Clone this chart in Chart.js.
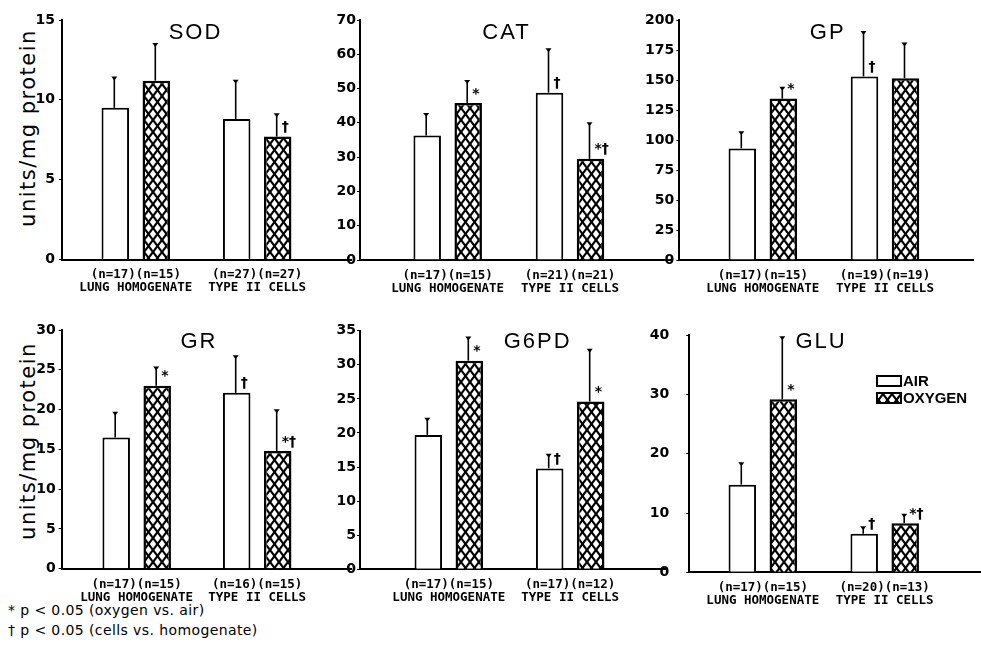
<!DOCTYPE html>
<html>
<head>
<meta charset="utf-8">
<script src="https://cdn.jsdelivr.net/npm/chart.js@4.4.0/dist/chart.umd.min.js"></script>
<style>
  body { margin: 0; background: #fff; width: 981px; height: 661px; position: relative; overflow: hidden; }
  canvas { position: absolute; }
  .ytitle {
    position: absolute; white-space: nowrap; color: #000;
    font: 21px "DejaVu Sans", sans-serif; letter-spacing: 1.5px;
    transform: translate(-50%, -50%) rotate(-90deg);
  }
  .note { position: absolute; left: 8px; white-space: nowrap; color: #000;
    font: 14px "DejaVu Sans", sans-serif; letter-spacing: 0.4px; line-height: 20px; }
</style>
</head>
<body>
<div class="ytitle" style="left:28px;top:128px">units/mg protein</div>
<div class="ytitle" style="left:28px;top:441px">units/mg protein</div>
<div class="note" style="top:600px">* p &lt; 0.05 (oxygen vs. air)</div>
<div class="note" style="top:620px">† p &lt; 0.05 (cells vs. homogenate)</div>

<script>
const enzymes = ['SOD', 'CAT', 'GP', 'GR', 'G6PD', 'GLU'];
const groups  = ['LUNG HOMOGENATE', 'TYPE II CELLS'];
const yMax    = [15, 70, 200, 30, 35, 40];
const yStep   = [5, 10, 25, 5, 5, 10];

// means, units/mg protein
const airLung  = [9.5, 36.3, 93, 16.5, 19.7, 14.8];
const oxyLung  = [11.2, 45.8, 134.5, 23.0, 30.6, 29.2];
const airCells = [8.8, 48.8, 153, 22.1, 14.8, 6.5];
const oxyCells = [7.7, 29.5, 151.5, 14.8, 24.6, 8.3];

// upper error bar (SD)
const airLungSd  = [1.9, 6.3, 13.5, 3.1, 2.4, 3.6];
const oxyLungSd  = [2.3, 6.4, 9, 2.3, 3.4, 10.5];
const airCellsSd = [2.4, 12.7, 37, 4.6, 2.0, 1.1];
const oxyCellsSd = [1.4, 10.4, 29, 5.1, 7.6, 1.4];

// sample sizes
const nAirLung  = [17, 17, 17, 17, 17, 17];
const nOxyLung  = [15, 15, 15, 15, 15, 15];
const nAirCells = [27, 21, 19, 16, 17, 20];
const nOxyCells = [27, 21, 19, 15, 12, 13];

// significance marks
const airLungMark  = ['', '', '', '', '', ''];
const oxyLungMark  = ['', '*', '*', '*', '*', '*'];
const airCellsMark = ['', '†', '†', '†', '†', '†'];
const oxyCellsMark = ['†', '*†', '', '*†', '*', '*†'];

// page layout of each panel (pixels)
const panels = [
  { left: 0,   top: 0,   w: 352, h: 300, axisX: 62,    plotTop: 20,    plotBottom: 259.5, plotRight: 352, g1: 135.8, g2: 257.2, titleX: 194.5, titleY: 32.5,  tickPad: 4 },
  { left: 335, top: 0,   w: 336, h: 300, axisX: 360,   plotTop: 20,    plotBottom: 260,   plotRight: 671, g1: 447.7, g2: 570,   titleX: 505.5, titleY: 32.5,  tickPad: 1 },
  { left: 640, top: 0,   w: 341, h: 300, axisX: 679.3, plotTop: 20,    plotBottom: 260,   plotRight: 973, g1: 762.8, g2: 885,   titleX: 826.7, titleY: 32.5,  tickPad: 2 },
  { left: 0,   top: 310, w: 352, h: 300, axisX: 61.7,  plotTop: 330,   plotBottom: 568.7, plotRight: 352, g1: 136.7, g2: 257.2, titleX: 198,   titleY: 341.5, tickPad: 3 },
  { left: 335, top: 310, w: 332, h: 300, axisX: 360,   plotTop: 330.7, plotBottom: 569.3, plotRight: 667, g1: 448.8, g2: 570.2, titleX: 536.7, titleY: 341.5, tickPad: 1 },
  { left: 640, top: 310, w: 341, h: 300, axisX: 689.3, plotTop: 330.7, plotBottom: 572.3, plotRight: 981, g1: 762.8, g2: 884.7, titleX: 820,   titleY: 341.5, tickPad: 17, legend: { x: 876, y: 375 } },
];

function makeHatch() {
  const c = document.createElement('canvas');
  c.width = 9; c.height = 12;
  const g = c.getContext('2d');
  g.fillStyle = '#fff';
  g.fillRect(0, 0, 9, 12);
  g.strokeStyle = '#000';
  g.lineWidth = 2.2;
  for (let k = -1; k <= 1; k++) {
    g.beginPath(); g.moveTo(9 * k - 9, -12); g.lineTo(9 * k + 18, 24); g.stroke();
    g.beginPath(); g.moveTo(9 * k + 18, -12); g.lineTo(9 * k - 9, 24); g.stroke();
  }
  return g.createPattern(c, 'repeat');
}

const hatch = makeHatch();

const errorBars = {
  id: 'errorBars',
  afterDatasetsDraw(chart) {
    const ctx = chart.ctx;
    const y = chart.scales.y;
    ctx.save();
    ctx.strokeStyle = '#000';
    ctx.fillStyle = '#000';
    ctx.lineWidth = 1.6;
    chart.data.datasets.forEach((ds, di) => {
      chart.getDatasetMeta(di).data.forEach((bar, j) => {
        const top = y.getPixelForValue(ds.data[j].y + ds.sd[j]);
        const x = bar.x - 1;
        ctx.beginPath(); ctx.moveTo(x, bar.y); ctx.lineTo(x, top); ctx.stroke();
        ctx.beginPath();
        ctx.moveTo(x - 3, top - 1); ctx.lineTo(x + 3, top - 1); ctx.lineTo(x, top + 3);
        ctx.closePath(); ctx.fill();
        if (ds.marks[j]) {
          ctx.font = 'bold 14px "DejaVu Sans"';
          ctx.textAlign = 'left';
          ctx.textBaseline = 'middle';
          ctx.fillText(ds.marks[j], bar.x + 4, bar.y - 9);
        }
      });
    });
    ctx.restore();
  }
};

const panelText = {
  id: 'panelText',
  afterDraw(chart, args, opts) {
    const ctx = chart.ctx;
    const p = opts.panel;
    ctx.save();
    ctx.fillStyle = '#000';
    ctx.font = '22px "Liberation Sans", Arial';
    ctx.letterSpacing = '2px';
    ctx.textAlign = 'center';
    ctx.textBaseline = 'middle';
    ctx.fillText(opts.title, p.titleX - p.left + 1, p.titleY - p.top);
    ctx.letterSpacing = '0px';

    if (p.legend) {
      const lx = p.legend.x - p.left, ly = p.legend.y - p.top;
      chart.data.datasets.forEach((ds, i) => {
        const by = ly + i * 17;
        ctx.fillStyle = ds.backgroundColor;
        ctx.fillRect(lx, by, 26, 12);
        ctx.strokeStyle = '#000';
        ctx.lineWidth = 2;
        ctx.strokeRect(lx + 1, by + 1, 24, 10);
        ctx.fillStyle = '#000';
        ctx.font = 'bold 15px "Liberation Sans", Arial';
        ctx.textAlign = 'left';
        ctx.textBaseline = 'middle';
        ctx.fillText(ds.label, lx + 27, by + 6.5);
      });
    }
    ctx.restore();
  }
};

panels.forEach((p, i) => {
  const canvas = document.createElement('canvas');
  canvas.width = p.w;
  canvas.height = p.h;
  canvas.style.left = p.left + 'px';
  canvas.style.top = p.top + 'px';
  document.body.appendChild(canvas);

  const ppu  = p.g2 - p.g1;
  const xMin = 1 - (p.g1 - p.axisX) / ppu;
  const xMax = 2 + (p.plotRight - p.g2) / ppu;

  const nLabels = [
    `(n=${nAirLung[i]})(n=${nOxyLung[i]})`,
    `(n=${nAirCells[i]})(n=${nOxyCells[i]})`
  ];

  new Chart(canvas, {
    type: 'bar',
    data: {
      datasets: [
        {
          label: 'AIR',
          data: [{ x: 1, y: airLung[i] }, { x: 2, y: airCells[i] }],
          sd: [airLungSd[i], airCellsSd[i]],
          marks: [airLungMark[i], airCellsMark[i]],
          backgroundColor: '#fff',
          borderColor: '#000',
          borderWidth: 2,
        },
        {
          label: 'OXYGEN',
          data: [{ x: 1, y: oxyLung[i] }, { x: 2, y: oxyCells[i] }],
          sd: [oxyLungSd[i], oxyCellsSd[i]],
          marks: [oxyLungMark[i], oxyCellsMark[i]],
          backgroundColor: hatch,
          borderColor: '#000',
          borderWidth: 2.5,
        }
      ]
    },
    options: {
      responsive: false,
      animation: false,
      devicePixelRatio: 1,
      categoryPercentage: 82 / ppu,
      barPercentage: 27.5 / 41,
      layout: { padding: { left: 0, top: p.plotTop - p.top, right: p.left + p.w - p.plotRight, bottom: 0 } },
      plugins: {
        legend: { display: false },
        tooltip: { enabled: false },
        panelText: { title: enzymes[i], panel: p }
      },
      scales: {
        x: {
          type: 'linear',
          min: xMin,
          max: xMax,
          offset: false,
          afterBuildTicks: s => { s.ticks = [{ value: 1 }, { value: 2 }]; },
          afterFit: s => { s.height = p.top + p.h - p.plotBottom; },
          grid: { display: false },
          border: { display: true, color: '#000', width: 2 },
          ticks: {
            autoSkip: false,
            maxRotation: 0,
            padding: 1,
            color: '#000',
            font: { family: '"DejaVu Sans Mono", monospace', size: 12.5, weight: 'bold', lineHeight: 1.05 },
            callback: v => [nLabels[v - 1], groups[v - 1]]
          }
        },
        y: {
          min: 0,
          max: yMax[i],
          afterFit: s => { s.width = p.axisX - p.left; },
          grid: { display: true, drawOnChartArea: false, drawTicks: true, tickLength: 3, color: '#000', lineWidth: 1 },
          border: { display: true, color: '#000', width: 2 },
          ticks: {
            stepSize: yStep[i],
            padding: p.tickPad,
            color: '#000',
            font: { family: '"DejaVu Sans"', size: 14, weight: 'bold' }
          }
        }
      }
    },
    plugins: [errorBars, panelText]
  });
});
</script>
</body>
</html>
